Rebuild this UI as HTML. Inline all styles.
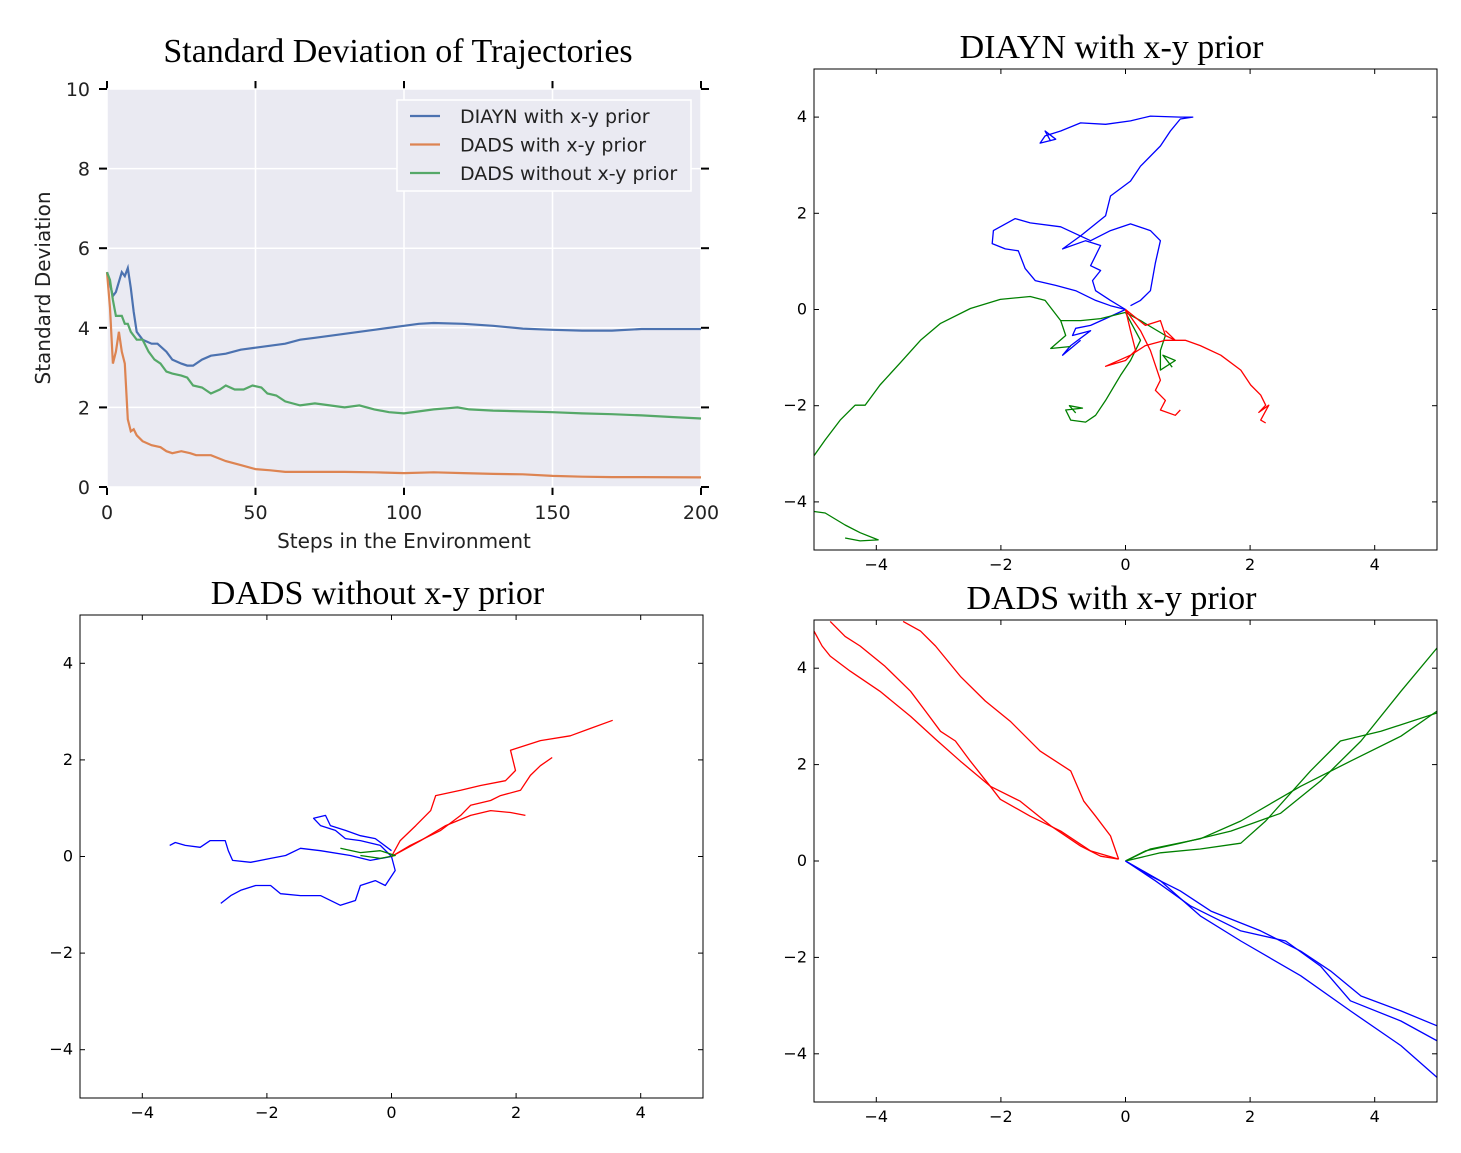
<!DOCTYPE html>
<html><head><meta charset="utf-8"><style>
body{margin:0;background:#fff;}
svg{display:block;}
</style></head><body>
<svg id="fig" width="1461" height="1153" xmlns="http://www.w3.org/2000/svg"></svg>
<script>
// ---- Std-dev chart data ----
const diaynSteps=[0,2,3,5,6,7,8,9,10,12,15,17,20,22,25,27,29,32,35,40,45,50,55,60,65,70,75,80,90,100,105,110,120,130,140,150,160,170,180,190,200];
const diaynStd=[5.4,4.8,4.9,5.4,5.3,5.5,5.0,4.4,3.9,3.7,3.6,3.6,3.4,3.2,3.1,3.05,3.05,3.2,3.3,3.35,3.45,3.5,3.55,3.6,3.7,3.75,3.8,3.85,3.95,4.05,4.1,4.12,4.1,4.05,3.98,3.95,3.93,3.93,3.97,3.97,3.97];
const dadsXYSteps=[0,1,2,3,4,5,6,7,8,9,10,12,15,18,20,22,25,28,30,35,40,45,50,55,60,70,80,90,100,110,120,130,140,150,160,170,180,200];
const dadsXYStd=[5.4,4.5,3.1,3.4,3.9,3.4,3.1,1.7,1.4,1.45,1.3,1.15,1.05,1.0,0.9,0.85,0.9,0.85,0.8,0.8,0.65,0.55,0.45,0.42,0.38,0.38,0.38,0.37,0.35,0.37,0.35,0.33,0.32,0.28,0.26,0.25,0.25,0.24];
const dadsNoSteps=[0,1,2,3,5,6,7,8,10,12,14,16,18,20,22,25,27,29,32,35,38,40,43,46,49,52,54,57,60,65,70,75,80,85,90,95,100,105,110,115,118,122,130,140,150,160,170,180,190,200];
const dadsNoStd=[5.4,5.2,4.7,4.3,4.3,4.1,4.1,3.9,3.7,3.7,3.4,3.2,3.1,2.9,2.85,2.8,2.75,2.55,2.5,2.35,2.45,2.55,2.45,2.45,2.55,2.5,2.35,2.3,2.15,2.05,2.1,2.05,2.0,2.05,1.95,1.88,1.85,1.9,1.95,1.98,2.0,1.95,1.92,1.9,1.88,1.85,1.83,1.8,1.76,1.72];
const stepTicks=[0,50,100,150,200];
const stdTicks=[0,2,4,6,8,10];
const legendLabels=["DIAYN with x-y prior","DADS with x-y prior","DADS without x-y prior"];
const seriesColors=["#4C72B0","#DD8452","#55A868"];

// ---- Trajectory data (x,y pairs in env units) ----
const diaynBlue=[
[0,0,-0.24,0.19,-0.48,0.39,-0.53,0.6,-0.4,0.81,-0.56,0.91,-0.4,1.33,-0.64,1.43,-1.01,1.26,-0.72,1.53,-0.32,1.95,-0.24,2.36,0.08,2.67,0.24,2.98,0.56,3.4,0.72,3.71,0.88,3.96,1.08,4.0,0.88,4.0,0.4,4.02,0.08,3.92,-0.32,3.85,-0.72,3.88,-1.04,3.71,-1.29,3.61,-1.37,3.46,-1.12,3.54,-1.29,3.71,-1.2,3.5],
[0,0,-0.24,0.08,-0.48,0.19,-0.8,0.39,-1.12,0.5,-1.45,0.6,-1.61,0.85,-1.72,1.22,-1.93,1.26,-2.14,1.37,-2.12,1.64,-1.77,1.89,-1.53,1.8,-1.04,1.72,-0.56,1.43,-0.24,1.64,0.08,1.78,0.4,1.64,0.56,1.43,0.48,0.97,0.4,0.39,0.24,0.19,0.08,0.08],
[0,0,-0.32,-0.19,-0.56,-0.33,-0.8,-0.39,-0.85,-0.54,-0.56,-0.44,-0.88,-0.75,-1.01,-0.95,-0.72,-0.64]];
const diaynRed=[
[0,0,0.08,-0.44,0.16,-0.85,0,-1.06,-0.32,-1.18,0.08,-0.95,0.32,-0.75,0.64,-0.64,0.96,-0.64,1.2,-0.75,1.53,-0.95,1.85,-1.26,2.01,-1.57,2.17,-1.78,2.25,-1.99,2.14,-2.14,2.3,-1.99,2.17,-2.3,2.25,-2.36],
[0,0,0.24,-0.44,0.4,-0.85,0.56,-1.47,0.48,-1.68,0.64,-1.89,0.56,-2.09,0.8,-2.2,0.88,-2.09],
[0,0,0.32,-0.33,0.56,-0.23,0.64,-0.54,0.8,-0.64,0.64,-0.44]];
const diaynGreen=[
[0,-0.06,-0.4,-0.19,-0.72,-0.23,-1.04,-0.23,-1.29,0.19,-1.53,0.27,-2.01,0.21,-2.49,0.02,-2.97,-0.29,-3.29,-0.64,-3.61,-1.1,-3.94,-1.57,-4.18,-1.99,-4.34,-1.99,-4.58,-2.3,-4.82,-2.71,-5,-3.04],
[0,-0.06,0.24,-0.64,0.08,-1.06,-0.08,-1.37,-0.32,-1.89,-0.48,-2.2,-0.64,-2.34,-0.88,-2.3,-0.96,-2.09,-0.69,-2.05,-0.9,-2.0,-0.8,-2.15],
[0,-0.06,0.24,-0.23,0.64,-0.54,0.56,-0.85,0.56,-1.26,0.8,-1.06,0.6,-0.95,0.75,-1.2],
[-1.04,-0.23,-0.96,-0.54,-1.2,-0.81,-0.88,-0.77],
[-5,-4.2,-4.82,-4.23,-4.5,-4.48,-4.26,-4.64,-3.97,-4.79,-4.26,-4.81,-4.5,-4.75]];
const noPriorBlue=[
[0,0,-0.18,0.23,-0.5,0.33,-0.74,0.37,-0.9,0.54,-1.14,0.64,-1.25,0.79,-1.06,0.85,-0.98,0.64,-0.74,0.54,-0.5,0.43,-0.26,0.37,0,0.12],
[0,0,-0.34,-0.08,-0.66,0.02,-1.14,0.12,-1.46,0.17,-1.7,0.02,-1.94,-0.04,-2.26,-0.12,-2.55,-0.08,-2.62,0.12,-2.67,0.33,-2.91,0.33,-3.07,0.19,-3.31,0.23,-3.47,0.29,-3.56,0.23],
[0,0,0.06,-0.29,-0.1,-0.6,-0.26,-0.5,-0.5,-0.6,-0.58,-0.91,-0.82,-1.01,-1.14,-0.81,-1.46,-0.81,-1.78,-0.77,-1.94,-0.6,-2.18,-0.6,-2.42,-0.7,-2.58,-0.81,-2.74,-0.97]];
const noPriorRed=[
[0,0,0.14,0.33,0.39,0.64,0.63,0.95,0.71,1.26,1.11,1.37,1.43,1.47,1.83,1.57,1.99,1.78,1.91,2.2,2.39,2.4,2.87,2.5,3.19,2.65,3.55,2.82],
[0,0,0.3,0.23,0.79,0.54,1.11,0.85,1.27,1.06,1.59,1.16,1.75,1.26,2.07,1.37,2.23,1.68,2.39,1.88,2.58,2.05],
[0,0,0.47,0.33,0.87,0.64,1.27,0.85,1.59,0.95,1.91,0.91,2.15,0.85]];
const noPriorGreen=[[-0.82,0.17,-0.5,0.08,-0.18,0.12,0.06,0.02,-0.18,-0.04,-0.5,0.02]];
const priorRed=[
[-0.11,0.04,-0.24,0.52,-0.48,0.93,-0.67,1.24,-0.88,1.87,-1.37,2.28,-1.85,2.9,-2.25,3.32,-2.65,3.83,-3.05,4.46,-3.29,4.77,-3.57,4.97],
[-0.11,0.04,-0.56,0.21,-1.04,0.62,-1.53,0.93,-2.01,1.28,-2.17,1.55,-2.49,2.07,-2.73,2.49,-2.97,2.69,-3.21,3.11,-3.45,3.52,-3.86,4.04,-4.26,4.46,-4.5,4.66,-4.74,4.97],
[-0.11,0.04,-0.4,0.1,-0.72,0.31,-1.2,0.73,-1.69,1.24,-2.17,1.55,-2.65,2.07,-3.05,2.53,-3.45,3.0,-3.94,3.52,-4.42,3.94,-4.74,4.25,-4.87,4.46,-5,4.77]];
const priorGreen=[
[0,0,0.32,0.21,0.88,0.37,1.69,0.62,2.49,0.99,3.13,1.66,3.78,2.49,4.42,3.52,5,4.42],
[0,0,0.4,0.25,1.2,0.46,1.85,0.83,2.81,1.55,3.61,2.07,4.42,2.59,5,3.11],
[0,0,0.56,0.17,1.2,0.25,1.85,0.37,2.25,0.83,2.97,1.87,3.45,2.49,4.1,2.69,5,3.07]];
const priorBlue=[
[0,0,0.4,-0.31,0.88,-0.62,1.37,-1.04,2.17,-1.45,2.81,-1.87,3.29,-2.28,3.78,-2.8,4.42,-3.11,5,-3.42],
[0,0,0.48,-0.41,1.04,-0.93,1.85,-1.45,2.57,-1.66,3.13,-2.18,3.61,-2.9,4.42,-3.32,5,-3.73],
[0,0,0.56,-0.41,1.2,-1.14,1.85,-1.66,2.81,-2.38,3.61,-3.11,4.42,-3.83,5,-4.49]];
const envTicks=[-4,-2,0,2,4];

const NS="http://www.w3.org/2000/svg";
const svg=document.getElementById('fig');
function mk(tag,attrs,parent){const e=document.createElementNS(NS,tag);for(const k in attrs)e.setAttribute(k,attrs[k]);(parent||svg).appendChild(e);return e;}
function txt(s,attrs,parent){const e=mk('text',attrs,parent);e.textContent=s;return e;}
const serif='"Liberation Serif", serif', sans='"DejaVu Sans", "Liberation Sans", sans-serif';
function fmt(v){return v<0?'\u2212'+(-v):''+v;}

// ---- Std chart ----
const L=107,R=701,T=89,B=487;
const sx=v=>L+(v/200)*(R-L), sy=v=>B-(v/10)*(B-T);
let g=mk('g',{});


let t=txt('Standard Deviation of Trajectories',{x:398,y:62,'text-anchor':'middle','font-family':serif,'font-size':34},g);

mk('rect',{x:L,y:T,width:R-L,height:B-T,fill:'#EAEAF2'},g);
stepTicks.forEach(v=>{const x=sx(v);
 mk('line',{x1:x,x2:x,y1:T,y2:B,stroke:'#fff','stroke-width':1.5},g);
 mk('line',{x1:x,x2:x,y1:B,y2:B+8,stroke:'#000','stroke-width':2},g);
 mk('line',{x1:x,x2:x,y1:T-8,y2:T,stroke:'#000','stroke-width':2},g);
 const l=txt(''+v,{x:x,y:519,'text-anchor':'middle','font-family':sans,'font-size':19,fill:'#222'},g);
 });
stdTicks.forEach(v=>{const y=sy(v);
 mk('line',{x1:L,x2:R,y1:y,y2:y,stroke:'#fff','stroke-width':1.5},g);
 mk('line',{x1:L-8,x2:L,y1:y,y2:y,stroke:'#000','stroke-width':2},g);
 mk('line',{x1:R,x2:R+8,y1:y,y2:y,stroke:'#000','stroke-width':2},g);
 const l=txt(''+v,{x:90,y:y+7,'text-anchor':'end','font-family':sans,'font-size':19,fill:'#222'},g);
 });
[[diaynSteps,diaynStd,'diayn-line'],[dadsXYSteps,dadsXYStd,'dads-xy-line'],[dadsNoSteps,dadsNoStd,'dads-no-prior-line']].forEach((s,i)=>{
 const d=s[0].map((x,j)=>(j?'L':'M')+sx(x).toFixed(1)+','+sy(s[1][j]).toFixed(1)).join('');
 const p=mk('path',{d:d,fill:'none',stroke:seriesColors[i],'stroke-width':2.2},g);
 });
t=txt('Steps in the Environment',{x:404,y:548,'text-anchor':'middle','font-family':sans,'font-size':20,fill:'#222'},g);

t=txt('Standard Deviation',{x:0,y:0,'text-anchor':'middle','font-family':sans,'font-size':20,fill:'#222',transform:'translate(50,288) rotate(-90)'},g);

const lg=mk('g',{},g);

mk('rect',{x:397,y:100,width:294,height:91,fill:'#EAEAF2',stroke:'#fff','stroke-width':1.5},lg);
legendLabels.forEach((s,i)=>{const y=116+i*28.5;
 const e=mk('g',{},lg);
 mk('line',{x1:410,x2:440,y1:y,y2:y,stroke:seriesColors[i],'stroke-width':2.2},e);
 txt(s,{x:460,y:y+7,'font-family':sans,'font-size':19,fill:'#222'},e);});

// ---- Trajectory panels ----
function panel(name,title,titleY,box,groups){
 const [x0,y0,x1,y1]=box;
 const px=v=>x0+(v+5)/10*(x1-x0), py=v=>y1-(v+5)/10*(y1-y0);
 const pg=mk('g',{});
 const tt=txt(title,{x:(x0+x1)/2-14,y:titleY,'text-anchor':'middle','font-family':serif,'font-size':34},pg);
 
 const cid=name+'-clip';
 const cp=mk('clipPath',{id:cid},pg);mk('rect',{x:x0,y:y0,width:x1-x0,height:y1-y0},cp);
 const lines=mk('g',{'clip-path':'url(#'+cid+')'},pg);
 groups.forEach(([arr,col,nm])=>arr.forEach(a=>{
  let d='';for(let i=0;i<a.length;i+=2)d+=(i?'L':'M')+px(a[i]).toFixed(1)+','+py(a[i+1]).toFixed(1);
  const p=mk('path',{d:d,fill:'none',stroke:col,'stroke-width':1.3,'stroke-linejoin':'round'},lines);
  }));
 mk('rect',{x:x0,y:y0,width:x1-x0,height:y1-y0,fill:'none',stroke:'#000','stroke-width':1},pg);
 envTicks.forEach(v=>{const x=px(v),y=py(v);
  mk('line',{x1:x,x2:x,y1:y1,y2:y1-5,stroke:'#000'},pg);mk('line',{x1:x,x2:x,y1:y0,y2:y0+5,stroke:'#000'},pg);
  mk('line',{x1:x0,x2:x0+5,y1:y,y2:y,stroke:'#000'},pg);mk('line',{x1:x1,x2:x1-5,y1:y,y2:y,stroke:'#000'},pg);
  let l=txt(fmt(v),{x:x,y:y1+20,'text-anchor':'middle','font-family':sans,'font-size':16},pg);
  
  l=txt(fmt(v),{x:x0-7,y:y+5,'text-anchor':'end','font-family':sans,'font-size':16},pg);
  });
}
panel('diayn-panel','DIAYN with x-y prior',58,[814,69,1437,550],[[diaynBlue,'#0000ff','blue-trajectory'],[diaynGreen,'#008000','green-trajectory'],[diaynRed,'#ff0000','red-trajectory']]);
panel('dads-no-prior-panel','DADS without x-y prior',604,[80,615,703,1098],[[noPriorBlue,'#0000ff','blue-trajectory'],[noPriorRed,'#ff0000','red-trajectory'],[noPriorGreen,'#008000','green-trajectory']]);
panel('dads-prior-panel','DADS with x-y prior',609,[814,620,1437,1102],[[priorRed,'#ff0000','red-trajectory'],[priorGreen,'#008000','green-trajectory'],[priorBlue,'#0000ff','blue-trajectory']]);
</script>
</body></html>
